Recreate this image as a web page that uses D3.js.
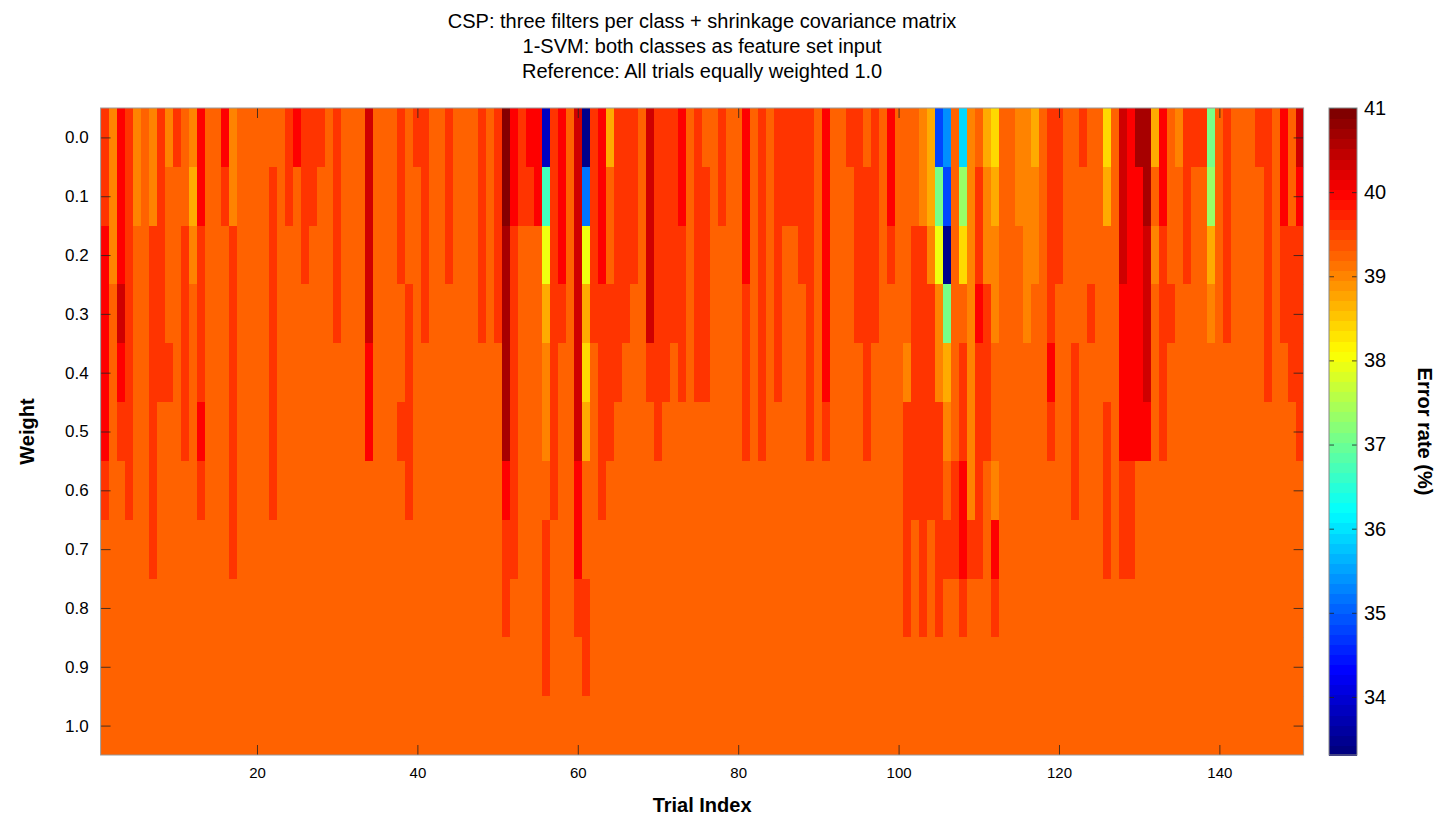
<!DOCTYPE html>
<html lang="en">
<head>
<meta charset="utf-8">
<title>Error rate per trial and weight</title>
<script src="https://d3js.org/d3.v7.min.js"></script>
<style>
  body { margin: 0; background: #fff; }
  text { font-family: "Liberation Sans", Arial, sans-serif; fill: #000; }
</style>
</head>
<body>
<script>
// configuration
var width = 1454, height = 819;
var plot = { left: 100.6, right: 1303.6, top: 108, bottom: 755 };
var bar = { left: 1329, right: 1357 };

// data
var titleLines = [
  "CSP: three filters per class + shrinkage covariance matrix",
  "1-SVM: both classes as feature set input",
  "Reference: All trials equally weighted 1.0"
];
var weights = [0.0, 0.1, 0.2, 0.3, 0.4, 0.5, 0.6, 0.7, 0.8, 0.9, 1.0];
var xTicks = [20, 40, 60, 80, 100, 120, 140];
var colorTicks = [34, 35, 36, 37, 38, 39, 40, 41];
var colorDomain = [33.31, 41.0];

// error rate levels seen in the picture, one letter each
var levelCodes  = "WVNMLKTGHYQPOABCDEF";
var levelValues = [33.4, 33.8, 34.8, 35.15, 35.35, 35.9, 36.7, 37.1, 37.35, 38.0,
                   38.4, 38.75, 39.05, 39.3, 39.65, 40.05, 40.4, 40.7, 40.95];

// one string per trial, rows = weight 0.0 ... 1.0
var columns = [
  "BBCCCCBAAAA", "OOOAAAAAAAA", "CCCDCBAAAAA", "BBBBBBBAAAA", "OOAAAAAAAAA",
  "AAAAAAAAAAA", "OOBBBBBBAAA", "BBBBBAAAAAA", "OAAABAAAAAA", "BAAAAAAAAAA",
  "AABBBBAAAAA", "OPOAAAAAAAA", "CCBBBCBAAAA", "AAAAAAAAAAA", "AAAAAAAAAAA",
  "CBAAAAAAAAA", "OOBBBBBBAAA", "AAAAAAAAAAA", "AAAAAAAAAAA", "AAAAAAAAAAA",
  "AAAAAAAAAAA", "ABBBBBBAAAA", "AAAAAAAAAAA", "BBAAAAAAAAA", "CAAAAAAAAAA",
  "BBBAAAAAAAA", "BBAAAAAAAAA", "BAAAAAAAAAA", "AAAAAAAAAAA", "BBBBAAAAAAA",
  "AAAAAAAAAAA", "AAAAAAAAAAA", "AAAAAAAAAAA", "DDDDCCAAAAA", "AAAAAAAAAAA",
  "AAAAAAAAAAA", "AAAAAAAAAAA", "BBBAABAAAAA", "AAABBBBAAAA", "BAAAAAAAAAA",
  "BBBBAAAAAAA", "AAAAAAAAAAA", "AAAAAAAAAAA", "BBBAAAAAAAA", "AAAAAAAAAAA",
  "AAAAAAAAAAA", "AAAAAAAAAAA", "BBBBAAAAAAA", "AAAAAAAAAAA", "BBBBAAAAAAA",
  "FFEEEECBBAA", "CCBBBBBBAAA", "BBAAAAAAAAA", "CBAAAAAAAAA", "CCAAAAAAAAA",
  "VTYPOOABBBA", "BBBBBBBAAAA", "CCCBAAAAAAA", "AAAAAAAAAAA", "DDDDDDCCBAA",
  "WMYPQPAABBA", "BBBBAAAAAAA", "CCCBBBBAAAA", "PAABBBAAAAA", "BBBBBAAAAAA",
  "BBBBAAAAAAA", "BBBAAAAAAAA", "AAAAAAAAAAA", "DDDDBAAAAAA", "BBBBBBAAAAA",
  "BBBBBAAAAAA", "BBBBAAAAAAA", "CCBBBAAAAAA", "AAAAAAAAAAA", "BBBBBAAAAAA",
  "ABBBBAAAAAA", "AAAAAAAAAAA", "BBAAAAAAAAA", "AAAAAAAAAAA", "AAAAAAAAAAA",
  "CCCBBBAAAAA", "AAAAAAAAAAA", "BBBBBBAAAAA", "AAAAAAAAAAA", "BBBBBAAAAAA",
  "BBAAAAAAAAA", "BBAAAAAAAAA", "BBBAAAAAAAA", "BBBBBBAAAAA", "AAAAAAAAAAA",
  "CCCCCBAAAAA", "AAAAAAAAAAA", "AAAAAAAAAAA", "BAAAAAAAAAA", "BBBBAAAAAAA",
  "ABBBBBAAAAA", "BBBBAAAAAAA", "AAAAAAAAAAA", "CCBAAAAAAAA", "AAAAAAAAAAA",
  "AAAAOBBBBAA", "AABBBBBAAAA", "OOBBBBBBBAA", "PPOBBBBAAAA", "NGYOOBBBBAA",
  "LNWGPOABAAA", "AAAAAABBAAA", "KHQABBCCBAA", "OOOOOOOBAAA", "ABBCBBBBAAA",
  "POOBBBAAAAA", "QPOOAAOCBAA", "AAAAAAAAAAA", "AAAAAAAAAAA", "OOAAAAAAAAA",
  "OOOOAAAAAAA", "POOAAAAAAAA", "AAAAAAAAAAA", "BBBBCBAAAAA", "BBBAAAAAAAA",
  "AAAAAAAAAAA", "AAAABBBAAAA", "BAAAAAAAAAA", "AAABAAAAAAA", "AAAAAAAAAAA",
  "QPAAABBBAAA", "AAAAAAAAAAA", "DDDCCCBBAAA", "CCCCCCBBAAA", "ECCCCCAAAAA",
  "EEDDDCAAAAA", "PAOAAAAAAAA", "CCBBBBAAAAA", "AAABAAAAAAA", "OAAAAAAAAAA",
  "BBBAAAAAAAA", "BAAAAAAAAAA", "BAAAAAAAAAA", "GHPOAAAAAAA", "AAAAAAAAAAA",
  "BBBBAAAAAAA", "AAAAAAAAAAA", "AAAAAAAAAAA", "AAAAAAAAAAA", "BAAAAAAAAAA",
  "BBBBBAAAAAA", "AAAAAAAAAAA", "CCBBAAAAAAA", "AABBBAAAAAA", "DCBBBBAAAAA"
];

// matlab style jet colormap
function clamp(v) { return Math.max(0, Math.min(1, v)); }
function jet(t) {
  var r = clamp(1.5 - Math.abs(4 * t - 3));
  var g = clamp(1.5 - Math.abs(4 * t - 2));
  var b = clamp(1.5 - Math.abs(4 * t - 1));
  return d3.rgb(r * 255, g * 255, b * 255).toString();
}
var color = d3.scaleSequential(jet).domain(colorDomain);

var cells = [];
columns.forEach(function (col, i) {
  col.split("").forEach(function (c, j) {
    cells.push({ trial: i + 1, weight: weights[j], value: levelValues[levelCodes.indexOf(c)] });
  });
});

var svg = d3.select("body").append("svg")
  .attr("width", width)
  .attr("height", height);

var xScale = d3.scaleLinear().domain([0.5, columns.length + 0.5]).range([plot.left, plot.right]);
var yScale = d3.scaleLinear().domain([-0.05, 1.05]).range([plot.top, plot.bottom]);

svg.append("clipPath").attr("id", "plotClip")
  .append("rect")
  .attr("x", plot.left).attr("y", plot.top)
  .attr("width", plot.right - plot.left).attr("height", plot.bottom - plot.top);

svg.append("g")
  .attr("clip-path", "url(#plotClip)")
  .attr("shape-rendering", "crispEdges")
  .selectAll("rect")
  .data(cells)
  .enter().append("rect")
  .attr("x", function (d) { return xScale(d.trial - 0.5); })
  .attr("y", function (d) { return yScale(d.weight - 0.05); })
  .attr("width", function (d) { return xScale(d.trial + 0.5) - xScale(d.trial - 0.5) + 1; })
  .attr("height", function (d) { return yScale(d.weight + 0.05) - yScale(d.weight - 0.05) + 1; })
  .attr("fill", function (d) { return color(d.value); });

// axes, ticks pointing inwards
function styleAxis(g) {
  g.select(".domain").remove();
  g.selectAll(".tick line").attr("stroke", "#222").attr("stroke-opacity", 0.8);
}

svg.append("g")
  .attr("transform", "translate(0," + plot.bottom + ")")
  .call(d3.axisBottom(xScale).tickValues(xTicks).tickSize(-10).tickPadding(12).tickFormat(d3.format("d")))
  .call(styleAxis)
  .selectAll("text").style("font-size", "15px");

svg.append("g")
  .attr("transform", "translate(0," + plot.top + ")")
  .call(d3.axisTop(xScale).tickValues(xTicks).tickSize(-10).tickFormat(""))
  .call(styleAxis);

svg.append("g")
  .attr("transform", "translate(" + plot.left + ",0)")
  .call(d3.axisLeft(yScale).tickValues(weights).tickSize(-10).tickPadding(12).tickFormat(d3.format(".1f")))
  .call(styleAxis)
  .selectAll("text").style("font-size", "17px");

svg.append("g")
  .attr("transform", "translate(" + plot.right + ",0)")
  .call(d3.axisRight(yScale).tickValues(weights).tickSize(-10).tickFormat(""))
  .call(styleAxis);

svg.append("rect")
  .attr("x", plot.left).attr("y", plot.top)
  .attr("width", plot.right - plot.left).attr("height", plot.bottom - plot.top)
  .attr("fill", "none").attr("stroke", "#999").attr("stroke-width", 1);

// colorbar with 64 bands
var cScale = d3.scaleLinear().domain(colorDomain).range([plot.bottom, plot.top]);
var nBands = 64;
var bandStep = (colorDomain[1] - colorDomain[0]) / nBands;
svg.append("g")
  .attr("shape-rendering", "crispEdges")
  .selectAll("rect")
  .data(d3.range(nBands))
  .enter().append("rect")
  .attr("x", bar.left)
  .attr("y", function (i) { return cScale(colorDomain[0] + (i + 1) * bandStep); })
  .attr("width", bar.right - bar.left)
  .attr("height", function (i) { return cScale(colorDomain[0] + i * bandStep) - cScale(colorDomain[0] + (i + 1) * bandStep) + 1; })
  .attr("fill", function (i) { return jet(i / (nBands - 1)); });

svg.append("g")
  .attr("transform", "translate(" + bar.right + ",0)")
  .call(d3.axisRight(cScale).tickValues(colorTicks).tickSize(-5).tickPadding(7))
  .call(styleAxis)
  .selectAll("text").style("font-size", "20px");

svg.append("g")
  .attr("transform", "translate(" + bar.left + ",0)")
  .call(d3.axisLeft(cScale).tickValues(colorTicks).tickSize(-5).tickFormat(""))
  .call(styleAxis);

svg.append("rect")
  .attr("x", bar.left).attr("y", plot.top)
  .attr("width", bar.right - bar.left).attr("height", plot.bottom - plot.top)
  .attr("fill", "none").attr("stroke", "#888");

// titles and labels
svg.append("g").selectAll("text")
  .data(titleLines)
  .enter().append("text")
  .attr("x", (plot.left + plot.right) / 2)
  .attr("y", function (d, i) { return 28 + i * 25; })
  .attr("text-anchor", "middle")
  .style("font-size", "20px")
  .text(function (d) { return d; });

svg.append("text")
  .attr("x", (plot.left + plot.right) / 2)
  .attr("y", 812)
  .attr("text-anchor", "middle")
  .style("font-size", "20px").style("font-weight", "bold")
  .text("Trial Index");

svg.append("text")
  .attr("transform", "translate(34," + (plot.top + plot.bottom) / 2 + ") rotate(-90)")
  .attr("text-anchor", "middle")
  .style("font-size", "20px").style("font-weight", "bold")
  .text("Weight");

svg.append("text")
  .attr("transform", "translate(1418," + (plot.top + plot.bottom) / 2 + ") rotate(90)")
  .attr("text-anchor", "middle")
  .style("font-size", "20px").style("font-weight", "bold")
  .text("Error rate (%)");
</script>
</body>
</html>
